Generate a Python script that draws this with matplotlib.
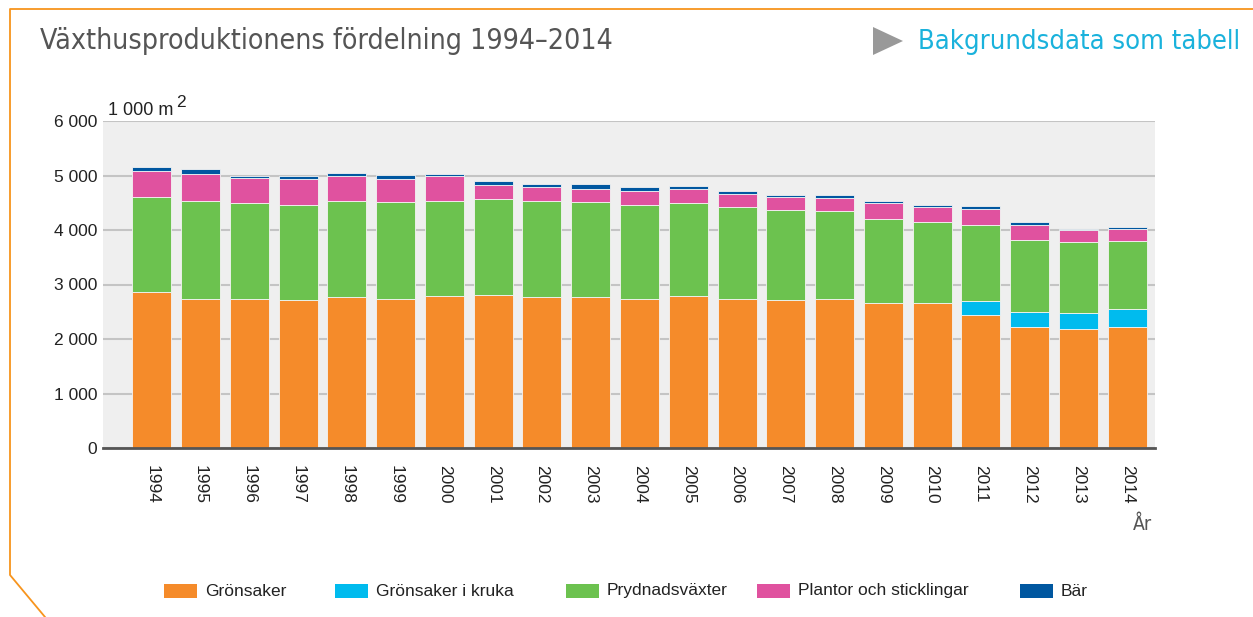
import numpy as np
import matplotlib
matplotlib.use("Agg")
import matplotlib.pyplot as plt
from matplotlib.patches import Rectangle, Polygon
from matplotlib.lines import Line2D

plt.rcParams['font.family'] = ['Liberation Sans', 'DejaVu Sans']

years = [str(y) for y in range(1994, 2015)]
series_names = ["Grönsaker", "Grönsaker i kruka", "Prydnadsväxter",
                "Plantor och sticklingar", "Bär"]
colors = ["#f58b2a", "#00bbee", "#6cc24f", "#e0529f", "#0057a0"]

# 1 000 m2
gronsaker = [2863, 2734, 2734, 2716, 2765, 2734, 2795, 2813, 2765, 2765, 2734,
             2795, 2734, 2716, 2734, 2667, 2667, 2441, 2221, 2190, 2221]
gronsaker_kruka = [0, 0, 0, 0, 0, 0, 0, 0, 0, 0, 0,
                   0, 0, 0, 0, 0, 0, 251, 275, 282, 324]
prydnad = [1745, 1801, 1753, 1746, 1770, 1777, 1740, 1747, 1770, 1746, 1728,
           1692, 1680, 1649, 1607, 1527, 1478, 1398, 1324, 1301, 1252]
plantor = [471, 495, 469, 465, 447, 416, 447, 268, 245, 244, 245,
           268, 244, 243, 243, 293, 269, 293, 270, 220, 219]
bar = [73, 98, 44, 55, 73, 78, 48, 80, 73, 80, 73,
       55, 49, 26, 50, 48, 48, 54, 49, 29, 31]
yticks = [0, 1000, 2000, 3000, 4000, 5000, 6000]
ytick_labels = ["0", "1 000", "2 000", "3 000", "4 000", "5 000", "6 000"]

W, H = 1253, 617
fig = plt.figure(figsize=(W / 100, H / 100), dpi=100)

def fx(x):
    return x / W

def fy(y):
    return 1 - y / H

cond = dict(family=["DejaVu Sans"], fontstretch="condensed")

ax = fig.add_axes([fx(103), fy(448), fx(1155) - fx(103), fy(121) - fy(448)])
ax.set_facecolor("#efefef")

x = np.arange(len(years))
bottom = np.zeros(len(years))
for vals, c in zip([gronsaker, gronsaker_kruka, prydnad, plantor, bar], colors):
    v = np.array(vals, dtype=float)
    ax.bar(x, v, width=0.8, bottom=bottom, color=c, edgecolor="#f4f4f4",
           linewidth=0.6, zorder=3)
    bottom += v

ax.set_ylim(0, 6000)
ax.set_xlim(-1.0, 20.57)
ax.set_yticks(yticks)
ax.set_yticklabels(ytick_labels, fontsize=12.5, color="#222222")
ax.set_xticks(x)
ax.set_xticklabels(years, rotation=-90, fontsize=12.5, color="#222222")
ax.tick_params(axis="both", length=0, pad=4)
ax.tick_params(axis="x", pad=12)
ax.grid(axis="y", color="#c4c4c4", linewidth=1.5, zorder=1)
for s in ["top", "right", "left"]:
    ax.spines[s].set_visible(False)
ax.spines["bottom"].set_color("#555555")
ax.spines["bottom"].set_linewidth(2)
ax.spines["bottom"].set_zorder(4)

# unit label
fig.text(fx(108), fy(115), "1 000 m", fontsize=13, color="#222222",
         va="baseline", ha="left")
fig.text(fx(176), fy(107), "2", fontsize=12.5, color="#222222",
         va="baseline", ha="left")
fig.text(fx(1152), fy(524), "År", fontsize=14, color="#555555",
         ha="right", va="center", **cond)

# title and link
fig.text(fx(40), fy(41), "Växthusproduktionens fördelning 1994–2014", fontsize=20.4,
         color="#555555", ha="left", va="center", **cond)
fig.text(fx(918), fy(42), "Bakgrundsdata som tabell", fontsize=19.5,
         color="#1ab2dc", ha="left", va="center", **cond)
fig.patches.append(Polygon([(fx(873), fy(27)), (fx(903), fy(41)), (fx(873), fy(55))],
                           closed=True, transform=fig.transFigure,
                           facecolor="#999999", edgecolor="none"))

# orange frame
fig.lines.append(Line2D([fx(45), fx(10), fx(10), fx(1253)],
                        [fy(617), fy(575), fy(9), fy(9)],
                        transform=fig.transFigure, color="#f7941d", linewidth=1.3))

# legend
leg_sq = [164, 335, 566, 757, 1020]
for name, c, sx in zip(series_names, colors, leg_sq):
    fig.patches.append(Rectangle((fx(sx), fy(598)), fx(33), fy(584) - fy(598),
                                 transform=fig.transFigure, facecolor=c,
                                 edgecolor="none"))
    fig.text(fx(sx + 41), fy(591), name, fontsize=12.5, color="#222222",
             ha="left", va="center")

fig.savefig("out.png", dpi=100)
